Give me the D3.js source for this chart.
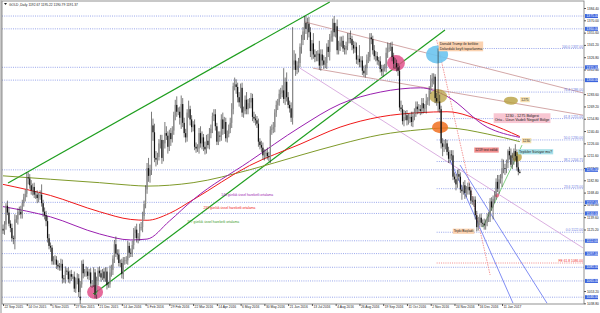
<!DOCTYPE html>
<html lang="tr">
<head>
<meta charset="UTF-8"/>
<title>GOLD Daily</title>
<script src="https://d3js.org/d3.v7.min.js"></script>
<style>
    body { margin: 0; background: #fff; }
    svg text { font-family: "Liberation Sans", Arial, sans-serif; }
</style>
</head>
<body>
<div id="chart"></div>
<script>
    // daily closes, 22 Sep 2015 .. 27 Jan 2017 (one value per bar)
    var closes = [
        1124,1131,1153,1145,
        1132,1127,1115,1114,1137, 1137,1146,1146,1143,1156, 1163,1167,1186,1185,1177,
        1171,1175,1166,1166,1162, 1164,1166,1156,1146,1142, 1135,1115,1106,1104,1088,
        1090,1090,1084,1082,1081, 1085,1068,1067,1077,1076, 1067,1073,1070,1070,1056,
        1065,1068,1052,1061,1085, 1074,1075,1076,1071,1075, 1062,1062,1075,1049,1065,
        1077,1074,1069,1076, 1068,1076,1060,1061,
        1075,1078,1091,1108,1097, 1096,1086,1086,1073,1089, 1089,1089,1106,1098,1097,
        1107,1121,1125,1115,1117, 1128,1128,1141,1155,1172, 1197,1188,1195,1247,1239,
        1209,1207,1210,1226,1230, 1209,1226,1238,1235,1222, 1238,1231,1241,1259,1271,
        1263,1263,1256,1272,1250, 1238,1233,1262,1266,1254, 1245,1248,1222,1220,
        1220,1238,1226,1233,1222, 1219,1229,1224,1238,1243, 1258,1260,1246,1228,1235,
        1234,1254,1243,1251,1232, 1237,1243,1250,1266,1293, 1295,1292,1280,1274,1291,
        1262,1264,1277,1266,1273, 1274,1279,1257,1255,1253, 1249,1228,1224,1221,1212,
        1214,1215,1211,1210,1242, 1243,1245,1262,1271,1274, 1284,1285,1288,1278,1298,
        1280,1271,1267,1256,1318, 1323,1312,1317,1320,1339, 1347,1357,1367,1360,1366,
        1356,1334,1343,1330,1327, 1329,1331,1317,1330,1323, 1318,1320,1339,1333,1350,
        1351,1367,1356,1363,1335, 1340,1344,1346,1337,1336, 1340,1348,1349,1348,1341,
        1337,1339,1324,1325,1321, 1323,1311,1308,1314,1324, 1327,1350,1348,1335,1328,
        1328,1323,1322,1313,1310, 1314,1314,1332,1337,1338, 1339,1327,1319,1320,1315,
        1311,1268,1266,1252,1257, 1259,1253,1255,1257,1251, 1258,1262,1269,1266,1266,
        1264,1273,1267,1267,1276, 1276,1288,1297,1302,1304, 1279,1275,1275,1266,1226,
        1222,1225,1226,1216,1208, 1213,1212,1187,1184,1178, 1190,1187,1172,1170,1177,
        1168,1172,1175,1171,1159, 1158,1160,1142,1128,1134, 1139,1133,1132,1130,1133,
        1139,1140,1158,1151,
        1161,1165,1181,1173, 1184,1185,1197,1197,1196, 1203,1217,1212,1201,1209,
        1217,1211,1198,1192.67,1191.37
    ];
    // upper / lower wick lengths of each bar
    var wickUp = [
        5,4,3,6,
        6,4,5,3,6, 5,4,6,7,4, 4,5,6,6,5, 6,4,5,4,5, 4,5,12,4,5, 5,6,5,4,3,
        4,5,4,5,4, 6,5,4,5,3, 5,4,5,3,6, 4,6,5,4,4, 5,4,6,5,4, 5,4,6,4,5,
        4,5,4,3, 4,5,5,3,
        8,6,4,5,9, 5,6,4,5,4, 4,5,6,4,5, 5,6,4,7,4, 4,6,5,4,5, 6,12,6,16,8,
        10,8,5,5,6, 6,4,13,8,5, 4,6,5,4,6, 10,5,6,10,7, 6,5,4,10,4, 5,4,6,5,
        5,6,8,7,4, 6,7,8,6,5, 4,6,6,4,5, 5,6,8,6,5, 4,5,6,7,4, 8,6,5,6,5,
        6,5,5,9,5, 5,6,5,6,5, 5,6,4,5,6, 5,4,6,5,4, 5,6,4,5,4, 5,6,6,26,5,
        11,6,5,7,44, 12,8,5,6,4, 6,5,8,8,7, 8,6,4,12,6, 5,4,15,6,6, 6,7,4,8,4,
        7,5,8,4,8, 6,7,5,6,4, 5,7,6,9,4, 5,6,5,4,16, 5,5,6,4,6, 6,5,5,4,6,
        6,5,4,6,5, 4,5,6,7,5, 5,6,5,6,4, 5,6,8,5,8, 5,6,6,4,6, 5,5,6,6,6,
        5,6,6,5,8, 4,5,9,6,4, 3,6,62,8,4, 6,5,5,4,6, 5,5,6,5,6, 5,6,5,5,4,
        6,4,5,5,4, 5,4,4,5,6, 4,5,4,6,4, 5,6,4,5,
        4,5,4,8, 5,5,11,10,5, 4,2,5,8,6, 3,8,8,6,2.55
    ];
    var wickDn = [
        4,5,6,3,
        3,5,4,6,12, 4,6,4,5,5, 4,5,4,7,4, 5,6,4,5,6, 5,4,4,6,5, 6,5,4,5,4,
        4,6,5,4,4, 4,6,4,5,4, 4,5,5,3,4, 5,4,6,15,4, 6,4,5,4,5, 4,5,4,4,5,
        5,4,5,3, 4,4,5,3,
        4,5,6,5,4, 6,4,5,5,6, 5,4,5,6,4, 4,5,6,5,6, 5,4,6,4,5, 5,7,8,6,10,
        5,8,6,4,6, 7,4,6,5,8, 5,8,4,5,6, 6,4,8,13,5, 5,6,5,6,7, 6,5,4,5,
        4,6,5,7,5, 6,5,4,5,6, 5,6,5,4,4, 6,5,7,6,4, 5,4,5,6,6, 5,8,6,5,7,
        5,6,4,6,6, 6,7,5,5,6, 5,6,5,5,5, 6,5,4,5,7, 6,5,6,5,6, 4,6,5,5,7,
        5,4,5,5,8, 6,7,5,8,5, 8,6,10,6,13, 6,7,10,5,6, 5,7,5,6,6, 5,4,7,6,10,
        5,6,5,6,5, 5,6,5,4,6, 6,5,5,5,6, 6,5,5,6,6, 6,5,4,5,8, 4,5,6,5,4,
        6,5,5,4,5, 6,4,5,6,4, 4,5,5,6,5, 6,4,4,4,6, 4,6,5,5,5, 6,5,5,6,5,
        5,4,6,5,6, 5,6,4,5,7, 6,5,12,4,6, 11,6,6,4,5, 5,6,4,4,7, 4,5,4,10,4,
        7,5,6,5,4, 4,6,5,5,4, 4,5,4,5,5, 4,5,6,4,
        14,5,5,4, 6,5,10,6,7, 5,6,5,3,5, 8,5,4,4,0.58
    ];
    var firstOpen = 1126;

    var dateLabels = ["22 Sep 2015","14 Oct 2015","5 Nov 2015","27 Nov 2015","21 Dec 2015","14 Jan 2016",
        "5 Feb 2016","29 Feb 2016","22 Mar 2016","14 Apr 2016","6 May 2016","30 May 2016","21 Jun 2016",
        "13 Jul 2016","4 Aug 2016","26 Aug 2016","19 Sep 2016","11 Oct 2016","2 Nov 2016","24 Nov 2016",
        "16 Dec 2016","11 Jan 2017"];
    var priceTicks = [1384.40,1370.00,1355.60,1341.20,1326.80,1312.40,1283.60,1269.20,1254.80,1240.40,
        1226.00,1211.60,1197.20,1182.80,1168.40,1154.00,1139.60,1125.20,1053.20,1038.80];
    var levels = [1375,1360,1315,1300,1195,1157,1144,1112,1097,1081,1065,1046];
    var fibLevels = [["100.0",1337.00],["76.4",1286.00],["61.8",1255.00],["50.0",1230.00],
        ["38.2",1204.75],["23.6",1173.00],["0.0",1122.00]];
    var feLevel = ["FE 61.8",1086.00];

    // moving averages, [bar, value]
    var ema144 = [[0,1152],[32,1140],[65,1120],[86,1113],[97,1114],[112,1135],[128,1160],[166,1205],
        [200,1245],[227,1272],[254,1286],[281,1291],[299,1281],[326,1245],[348,1233]];
    var ema233 = [[0,1178],[32,1165],[65,1146],[86,1137],[97,1136],[112,1144],[128,1160],[166,1200],
        [200,1225],[227,1245],[254,1257],[281,1262],[299,1263],[326,1250],[348,1234]];
    var ema377 = [[0,1188],[32,1184],[65,1180],[86,1177],[97,1176],[112,1177],[128,1180],[166,1195],
        [200,1212],[227,1225],[254,1236],[281,1242],[299,1244],[326,1237],[348,1228]];

    var width = 600, height = 313;
    var plotL = 2, plotR = 584, plotT = 1, plotB = 304;
    var fs = "3.3px";

    var svg = d3.select("#chart").append("svg")
        .attr("width", width).attr("height", height);

    var xScale = d3.scaleLinear().domain([0, 336]).range([3, 502]);
    var yScale = d3.scaleLinear().domain([1039.2, 1384.4]).range([303, 8]);

    svg.append("defs").append("clipPath").attr("id", "plotclip")
        .append("rect").attr("x", plotL).attr("y", plotT)
        .attr("width", plotR - plotL).attr("height", plotB - plotT);

    svg.append("rect").attr("x", 0).attr("y", 0).attr("width", plotL).attr("height", height).attr("fill", "#c8c8c8");

    var plot = svg.append("g").attr("clip-path", "url(#plotclip)");

    // horizontal levels
    plot.selectAll("line.level").data(levels).enter().append("line")
        .attr("x1", plotL).attr("x2", plotR)
        .attr("y1", function(d) { return yScale(d); }).attr("y2", function(d) { return yScale(d); })
        .attr("stroke", "#7f8fe6").attr("stroke-width", 0.8).attr("stroke-dasharray", "1,1.2");

    plot.selectAll("line.fib").data(fibLevels).enter().append("line")
        .attr("x1", xScale(292)).attr("x2", plotR)
        .attr("y1", function(d) { return yScale(d[1]); }).attr("y2", function(d) { return yScale(d[1]); })
        .attr("stroke", "#7f8fe6").attr("stroke-width", 0.8).attr("stroke-dasharray", "1,1.2");
    plot.append("line")
        .attr("x1", xScale(292)).attr("x2", plotR)
        .attr("y1", yScale(feLevel[1])).attr("y2", yScale(feLevel[1]))
        .attr("stroke", "#f07070").attr("stroke-width", 0.8).attr("stroke-dasharray", "1,1.2");

    // trend lines [bar, price]
    function trend(p, color, w, dash) {
        plot.append("line")
            .attr("x1", xScale(p[0][0])).attr("y1", yScale(p[0][1]))
            .attr("x2", xScale(p[1][0])).attr("y2", yScale(p[1][1]))
            .attr("stroke", color).attr("stroke-width", w)
            .attr("stroke-dasharray", dash || null);
    }
    trend([[3.4,1179.7],[220,1391.4]], "#1e9e1e", 1.2);
    trend([[62,1051],[297.6,1358.7]], "#1e9e1e", 1.2);
    trend([[203.4,1368],[390.6,1285]], "#c89090", 0.8);
    trend([[208.8,1314],[390.6,1259]], "#c89090", 0.8);
    trend([[200,1314],[390.6,1103.6]], "#d09ad8", 0.8);
    trend([[292,1347],[328,1072]], "#f08080", 0.8, "1.5,1");
    trend([[301,1206.6],[343.4,1039]], "#6070f0", 0.8);
    trend([[307.7,1200.7],[366.3,1039]], "#6070f0", 0.8);
    trend([[323.2,1128],[349.5,1224]], "#50c050", 0.7);

    // moving averages
    var maLine = d3.line().curve(d3.curveMonotoneX)
        .x(function(d) { return xScale(d[0]); })
        .y(function(d) { return yScale(d[1]); });
    plot.append("path").datum(ema377).attr("d", maLine).attr("fill", "none").attr("stroke", "#7f9a2a").attr("stroke-width", 1);
    plot.append("path").datum(ema233).attr("d", maLine).attr("fill", "none").attr("stroke", "#f01818").attr("stroke-width", 1);
    plot.append("path").datum(ema144).attr("d", maLine).attr("fill", "none").attr("stroke", "#9a20b0").attr("stroke-width", 1);

    // circles behind candles
    function blob(bar, price, rx, ry, color, op) {
        plot.append("ellipse").attr("cx", xScale(bar)).attr("cy", yScale(price))
            .attr("rx", rx).attr("ry", ry).attr("fill", color).attr("opacity", op);
    }
    blob(62, 1052, 8, 7, "#e0508a", 0.85);
    blob(264.6, 1320, 9, 8, "#e0508a", 0.85);
    blob(292.3, 1330, 11, 9, "#6cc4f0", 0.9);
    blob(293, 1281, 9, 7, "#b8a040", 0.75);
    blob(294.3, 1245, 8, 6, "#f07020", 0.85);
    blob(342, 1276, 7, 4, "#b8a040", 0.8);
    blob(346, 1210, 5, 5, "#b8a040", 0.8);
    blob(332.6, 1165, 2, 2, "#f06080", 0.9);

    // candles
    var bars = closes.map(function(c, i) {
        var o = i === 0 ? firstOpen : closes[i - 1];
        return { i: i, o: o, c: c, h: Math.max(o, c) + wickUp[i], l: Math.min(o, c) - wickDn[i] };
    });
    var cg = plot.append("g");
    cg.selectAll("line.wick").data(bars).enter().append("line")
        .attr("x1", function(d) { return xScale(d.i); }).attr("x2", function(d) { return xScale(d.i); })
        .attr("y1", function(d) { return yScale(d.h); }).attr("y2", function(d) { return yScale(d.l); })
        .attr("stroke", "#222").attr("stroke-width", 0.6);
    cg.selectAll("rect.body").data(bars).enter().append("rect")
        .attr("x", function(d) { return xScale(d.i) - 0.6; })
        .attr("y", function(d) { return yScale(Math.max(d.o, d.c)); })
        .attr("width", 1.2)
        .attr("height", function(d) { return Math.max(0.6, Math.abs(yScale(d.o) - yScale(d.c))); })
        .attr("fill", function(d) { return d.c >= d.o ? "#8a8a8a" : "#111"; });

    // arrow and tick marks at the Dec 2015 low
    plot.append("path")
        .attr("d", "M" + xScale(52) + "," + (yScale(1046) - 1) + " l-1,1.5 l0.7,0 l0,2.5 l0.6,0 l0,-2.5 l0.7,0 z")
        .attr("fill", "#111");
    plot.append("path")
        .attr("d", "M" + (xScale(62) - 2) + "," + (yScale(1052) + 1) + " l1.5,1.5 l3,-4")
        .attr("fill", "none").attr("stroke", "#1a8a1a").attr("stroke-width", 0.9);

    // text boxes
    function box(x, y, lines, bg, color, anchor, size) {
        var g = plot.append("g");
        var t = g.append("text").attr("font-size", size || fs).attr("fill", color || "#222")
            .attr("text-anchor", anchor || "start");
        lines.forEach(function(s, k) {
            t.append("tspan").attr("x", x).attr("y", y + k * 4.6).text(s);
        });
        if (bg) {
            var b = t.node().getBBox();
            g.insert("rect", "text").attr("x", b.x - 1).attr("y", b.y - 0.6)
                .attr("width", b.width + 2).attr("height", b.height + 1.2).attr("fill", bg);
        }
    }
    box(xScale(294), yScale(1341), ["Donald Trump ile birlikte", "Dolardaki keyfi toparlanma"], "#fbd2b0", "#222", "start", "3.6px");
    box(xScale(349), yScale(1276), ["1275"], "#f6e0b0");
    box(xScale(349.5), yScale(1257), ["1230 - 1275 Bölgesi", "Orta - Uzun Vadeli Negatif Bölge"], "#f8c6d2", "#222", "middle", "3.8px");
    box(xScale(350), yScale(1228), ["1230"], "#f6e0b0");
    box(xScale(318), yScale(1217), ["1219 test edildi"], "#f39090");
    box(xScale(347.5), yScale(1215), ["Tepkiler Sürüyor mu?"], "#a8e0e8", "#222", "start", "3.5px");
    box(xScale(303.5), yScale(1122), ["Tepki Başladı"], "#fbd2b0");
    box(xScale(147), yScale(1164), ["144 günlük üssel hareketli ortalama"], null, "#9a20b0");
    box(xScale(135), yScale(1149), ["233 günlük üssel hareketli ortalama"], null, "#f01818");
    box(xScale(124), yScale(1132.5), ["377 günlük üssel hareketli ortalama"], null, "#3a9a2a");

    // fib labels
    plot.selectAll("text.fib").data(fibLevels).enter().append("text")
        .attr("x", plotR - 1).attr("y", function(d) { return yScale(d[1]) - 0.8; })
        .attr("text-anchor", "end").attr("font-size", fs).attr("fill", "#6a78e0")
        .text(function(d) { return d[0] + " " + d[1].toFixed(2); });
    plot.append("text").attr("x", plotR - 1).attr("y", yScale(feLevel[1]) - 0.8)
        .attr("text-anchor", "end").attr("font-size", fs).attr("fill", "#f03030")
        .text(feLevel[0] + " " + feLevel[1].toFixed(2));

    // header
    svg.append("path").attr("d", "M4,3 L7,3 L5.5,5 Z").attr("fill", "#222");
    svg.append("text").attr("x", 9).attr("y", 5.5).attr("font-size", fs).attr("fill", "#222")
        .text("GOLD ,Daily  1192.67 1195.22 1190.79 1191.37");

    // frame
    svg.append("rect").attr("x", plotL).attr("y", plotT).attr("width", plotR - plotL).attr("height", plotB - plotT)
        .attr("fill", "none").attr("stroke", "#777").attr("stroke-width", 0.8);

    // price axis
    var yAxis = d3.axisRight(yScale).tickValues(priceTicks).tickSize(2)
        .tickFormat(function(d) { return d.toFixed(2); });
    var ya = svg.append("g").attr("transform", "translate(" + plotR + ",0)").call(yAxis);
    ya.select(".domain").remove();
    ya.selectAll("text").attr("font-size", fs).attr("fill", "#222").attr("x", 3);
    ya.selectAll("line").attr("stroke", "#555");

    var hl = svg.selectAll("g.hl").data(levels).enter().append("g")
        .attr("transform", function(d) { return "translate(" + plotR + "," + yScale(d) + ")"; });
    hl.append("rect").attr("x", 1).attr("y", -2).attr("width", 13).attr("height", 4).attr("fill", "#3b63dd");
    hl.append("text").attr("x", 2.5).attr("y", 1.2).attr("font-size", fs).attr("fill", "#fff")
        .text(function(d) { return d.toFixed(2); });

    // time axis
    var xAxis = d3.axisBottom(xScale).tickValues(d3.range(0, 337, 16)).tickSize(2)
        .tickFormat(function(d, i) { return dateLabels[i]; });
    var xa = svg.append("g").attr("transform", "translate(0," + plotB + ")").call(xAxis);
    xa.select(".domain").remove();
    xa.selectAll("text").attr("font-size", fs).attr("fill", "#222")
        .attr("text-anchor", "start").attr("x", 1).attr("y", 2);
    xa.selectAll("line").attr("stroke", "#555");
</script>
</body>
</html>
